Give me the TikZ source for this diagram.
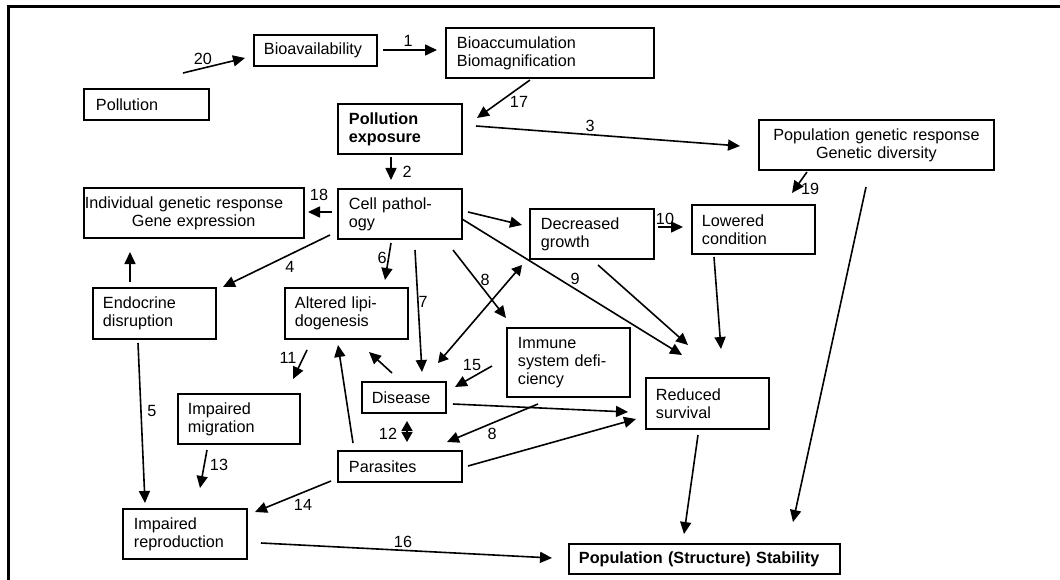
\documentclass[tikz,border=0pt]{standalone}
\usepackage{fontspec}
\setmainfont{Liberation Sans}
\usetikzlibrary{arrows.meta}
\begin{document}
\begin{tikzpicture}[x=1pt,y=-1pt,
  font=\fontsize{16.2}{18}\selectfont,
  box/.style={draw, line width=1.9pt, rectangle, inner ysep=0pt, anchor=north west, align=left},
  cbox/.style={draw, line width=1.9pt, rectangle, inner ysep=0pt, anchor=north west, align=center},
  arr/.style={-{Triangle[length=12pt,width=11pt]}, line width=1.6pt},
  darr/.style={{Triangle[length=10pt,width=11pt]}-{Triangle[length=10pt,width=11pt]}, line width=1.6pt},
  frame/.style={line width=3pt},
  lbl/.style={inner sep=0pt}]
\useasboundingbox (0,0) rectangle (1060,580);
% frame
\coordinate (fr1) at (1070,7);
\coordinate (fr0) at (8,7);
\coordinate (fr2) at (8,590);
\draw[frame] (fr1) -- (fr0) -- (fr2);

% boxes
\node[box, minimum width=125pt, minimum height=31pt, inner xsep=12pt, text width=101pt] (poll) at (83,88) {Pollution};
\node[box, minimum width=123pt, minimum height=31pt, inner xsep=10pt, text width=103pt] (bioav) at (253,34) {Bioavailability};
\node[box, minimum width=208pt, minimum height=50pt, inner xsep=11pt, text width=186pt] (bioacc) at (445,27) {Bioaccumulation\\Biomagnification};
\node[box, minimum width=124pt, minimum height=50pt, inner xsep=11pt, text width=102pt, font=\fontsize{16.2}{18}\selectfont\bfseries] (pexp) at (337,103) {Pollution\\exposure};
\node[cbox, minimum width=235pt, minimum height=50pt, inner xsep=5pt, text width=225pt] (pgen) at (758,119) {Population genetic response\\Genetic diversity};
\node[box, minimum width=220pt, minimum height=50pt, inner xsep=1pt, text width=218pt] (igen) at (83,187) {Individual genetic response\\\hspace*{47pt}Gene expression};
\node[box, minimum width=124pt, minimum height=50pt, inner xsep=11pt, text width=102pt] (cell) at (337,188) {Cell pathol-\\ogy};
\node[box, minimum width=124pt, minimum height=50pt, inner xsep=11pt, text width=102pt] (dgrow) at (529,208) {Decreased\\growth};
\node[box, minimum width=123pt, minimum height=49pt, inner xsep=10pt, text width=103pt] (lcond) at (691,204) {Lowered\\condition};
\node[box, minimum width=123pt, minimum height=51pt, inner xsep=10pt, text width=103pt] (endo) at (92,287) {Endocrine\\disruption};
\node[box, minimum width=123pt, minimum height=51pt, inner xsep=10pt, text width=103pt] (alip) at (284,287) {Altered lipi-\\dogenesis};
\node[box, minimum width=123pt, minimum height=69pt, inner xsep=11pt, text width=101pt] (immune) at (506,327) {Immune\\system defi-\\ciency};
\node[box, minimum width=84pt, minimum height=31pt, inner xsep=10pt, text width=64pt] (disease) at (361,381) {Disease};
\node[box, minimum width=123pt, minimum height=51pt, inner xsep=10pt, text width=103pt] (rsurv) at (645,377) {Reduced\\survival};
\node[box, minimum width=122pt, minimum height=50pt, inner xsep=10pt, text width=102pt] (imig) at (177,393) {Impaired\\migration};
\node[box, minimum width=124pt, minimum height=31pt, inner xsep=11pt, text width=102pt] (paras) at (337,450) {Parasites};
\node[box, minimum width=124pt, minimum height=50pt, inner xsep=11pt, text width=102pt] (irep) at (122,508) {Impaired\\reproduction};
\node[box, minimum width=271pt, minimum height=30pt, inner xsep=10pt, text width=251pt, font=\fontsize{16.2}{18}\selectfont\bfseries] (pstab) at (568,543) {Population (Structure) Stability};

% connector end points
\coordinate (s20) at (183,73);  \coordinate (e20) at (245,58);
\coordinate (s1) at (383,50);   \coordinate (e1) at (437,50);
\coordinate (s17) at (530,80);  \coordinate (e17) at (477,118);
\coordinate (s3) at (476,126);  \coordinate (e3) at (740,146);
\coordinate (s2) at (391,157);  \coordinate (e2) at (391,180);
\coordinate (s19) at (807,172); \coordinate (e19) at (792,193);
\coordinate (sL) at (866,187);  \coordinate (eL) at (793,522);
\coordinate (s18) at (332,212); \coordinate (e18) at (308,212);
\coordinate (s4) at (330,235);  \coordinate (e4) at (223,287);
\coordinate (sU) at (130,282);  \coordinate (eU) at (130,252);
\coordinate (s5) at (138,343);  \coordinate (e5) at (145,503);
\coordinate (s11) at (307,350); \coordinate (e11) at (293,379);
\coordinate (sPL) at (353,443); \coordinate (ePL) at (338,345);
\coordinate (s6) at (391,243);  \coordinate (e6) at (385,280);
\coordinate (s7) at (415,250);  \coordinate (e7) at (422,372);
\coordinate (s8a) at (453,250); \coordinate (e8a) at (506,318);
\coordinate (sDG) at (522,265); \coordinate (eDG) at (438,363);
\coordinate (sCD) at (468,212); \coordinate (eCD) at (522,225);
\coordinate (s10) at (658,227); \coordinate (e10) at (683,227);
\coordinate (s9) at (462,219);  \coordinate (e9) at (682,355);
\coordinate (sGR) at (598,265); \coordinate (eGR) at (688,345);
\coordinate (sLC) at (714,257); \coordinate (eLC) at (721,349);
\coordinate (s15) at (492,366); \coordinate (e15) at (455,387);
\coordinate (sDL) at (392,373); \coordinate (eDL) at (369,352);
\coordinate (s12) at (407,421); \coordinate (e12) at (407,442);
\coordinate (s8b) at (538,404); \coordinate (e8b) at (447,442);
\coordinate (sDR) at (453,404); \coordinate (eDR) at (628,412);
\coordinate (sPR) at (468,466); \coordinate (ePR) at (636,419);
\coordinate (s16) at (261,543); \coordinate (e16) at (552,558);
\coordinate (sRP) at (698,435); \coordinate (eRP) at (684,534);
\coordinate (s13) at (207,450); \coordinate (e13) at (200,488);
\coordinate (s14) at (331,481); \coordinate (e14) at (255,512);

% connectors
\draw[arr] (s20) -- (e20);
\draw[arr] (s1) -- (e1);
\draw[arr] (s17) -- (e17);
\draw[arr] (s3) -- (e3);
\draw[arr] (s2) -- (e2);
\draw[arr] (s19) -- (e19);
\draw[arr] (sL) -- (eL);
\draw[arr] (s18) -- (e18);
\draw[arr] (s4) -- (e4);
\draw[arr] (sU) -- (eU);
\draw[arr] (s5) -- (e5);
\draw[arr] (s11) -- (e11);
\draw[arr] (sPL) -- (ePL);
\draw[arr] (s6) -- (e6);
\draw[arr] (s7) -- (e7);
\draw[arr] (s8a) -- (e8a);
\draw[darr] (sDG) -- (eDG);
\draw[arr] (sCD) -- (eCD);
\draw[arr] (s10) -- (e10);
\draw[arr] (s9) -- (e9);
\draw[arr] (sGR) -- (eGR);
\draw[arr] (sLC) -- (eLC);
\draw[arr] (s15) -- (e15);
\draw[arr] (sDL) -- (eDL);
\draw[darr] (s12) -- (e12);
\draw[arr] (s8b) -- (e8b);
\draw[arr] (sDR) -- (eDR);
\draw[arr] (sPR) -- (ePR);
\draw[arr] (s16) -- (e16);
\draw[arr] (sRP) -- (eRP);
\draw[arr] (s13) -- (e13);
\draw[arr] (s14) -- (e14);

% labels
\node[lbl] (l20) at (203,59) {20};
\node[lbl] (l1) at (408,41) {1};
\node[lbl] (l17) at (519,102) {17};
\node[lbl] (l3) at (590,126) {3};
\node[lbl] (l2) at (407,172) {2};
\node[lbl] (l19) at (810,189) {19};
\node[lbl] (l18) at (319,195) {18};
\node[lbl] (l4) at (290,267) {4};
\node[lbl] (l5) at (152,411) {5};
\node[lbl] (l11) at (288,358) {11};
\node[lbl] (l6) at (382,258) {6};
\node[lbl] (l7) at (423,302) {7};
\node[lbl] (l8a) at (485,280) {8};
\node[lbl] (l9) at (575,279) {9};
\node[lbl] (l10) at (665,219) {10};
\node[lbl] (l15) at (472,365) {15};
\node[lbl] (l12) at (388,434) {12};
\node[lbl] (l8b) at (492,434) {8};
\node[lbl] (l16) at (403,542) {16};
\node[lbl] (l13) at (219,465) {13};
\node[lbl] (l14) at (303,505) {14};
\end{tikzpicture}
\end{document}
